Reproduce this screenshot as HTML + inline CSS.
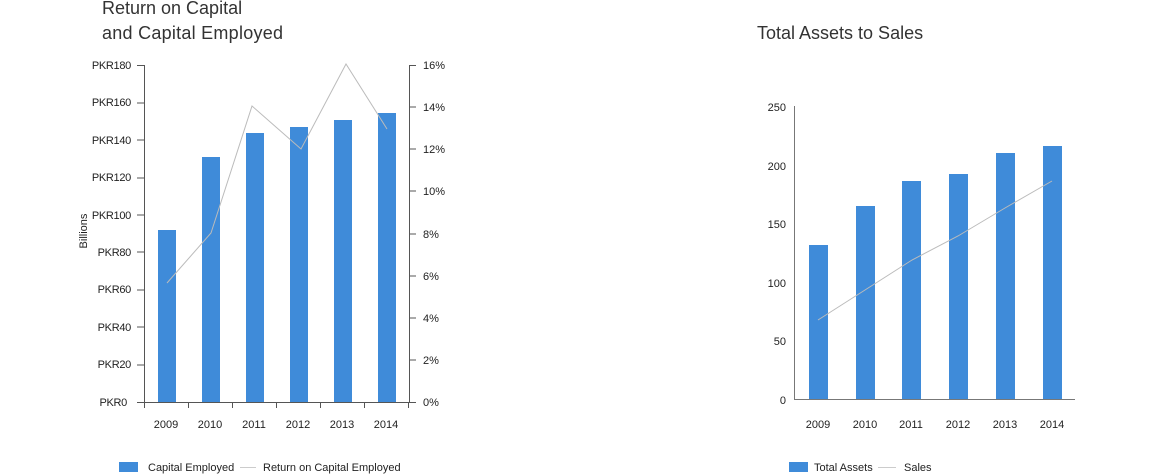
<!DOCTYPE html>
<html><head><meta charset="utf-8"><style>
html,body{margin:0;padding:0;background:#fff;}
svg{display:block;font-family:"Liberation Sans","DejaVu Sans",sans-serif;}
</style></head><body>
<svg width="1154" height="475" viewBox="0 0 1154 475" xmlns="http://www.w3.org/2000/svg">
<text x="102" y="14" font-size="18" fill="#333">Return on Capital</text>
<text x="102" y="39" font-size="18" fill="#333" textLength="181">and Capital Employed</text>
<text x="757" y="39" font-size="18" fill="#333">Total Assets to Sales</text>
<g fill="#3f8bd9">
<rect x="158" y="230" width="18" height="172"/>
<rect x="202" y="157" width="18" height="245"/>
<rect x="246" y="133" width="18" height="269"/>
<rect x="290" y="127" width="18" height="275"/>
<rect x="334" y="120" width="18" height="282"/>
<rect x="378" y="113" width="18" height="289"/>
</g>
<polyline points="167,283 211,233 252,106 301,149 346,64 387,129" fill="none" stroke="#bbb" stroke-width="1"/>
<g stroke="#555" stroke-width="1" fill="none">
<line x1="144.5" y1="65" x2="144.5" y2="402"/>
<line x1="409.5" y1="65" x2="409.5" y2="402"/>
<line x1="137" y1="402.5" x2="416" y2="402.5"/>
<path d="M137 65.5h7M137 103h7M137 140h7M137 178h7M137 215h7M137 252h7M137 290h7M137 327h7M137 365h7"/>
<path d="M409 65.5h7M409 107h7M409 149h7M409 191h7M409 234h7M409 276h7M409 318h7M409 360h7"/>
<path d="M144.5 402v6M188.5 402v6M232.5 402v6M276.5 402v6M320.5 402v6M364.5 402v6M408.5 402v6"/>
</g>
<g font-size="11" fill="#222" text-anchor="end" letter-spacing="-0.3">
<text x="131" y="69">PKR180</text><text x="131" y="106">PKR160</text><text x="131" y="144">PKR140</text>
<text x="131" y="181">PKR120</text><text x="131" y="219">PKR100</text><text x="131" y="256">PKR80</text>
<text x="131" y="293">PKR60</text><text x="131" y="331">PKR40</text><text x="131" y="368">PKR20</text>
<text x="127" y="406">PKR0</text>
</g>
<g font-size="11" fill="#222">
<text x="423" y="69">16%</text><text x="423" y="111">14%</text><text x="423" y="153">12%</text>
<text x="423" y="195">10%</text><text x="423" y="238">8%</text><text x="423" y="280">6%</text>
<text x="423" y="322">4%</text><text x="423" y="364">2%</text><text x="423" y="406">0%</text>
</g>
<text x="87" y="231" font-size="11" fill="#222" text-anchor="middle" transform="rotate(-90 87 231)">Billions</text>
<g font-size="11" fill="#222" text-anchor="middle">
<text x="166" y="428">2009</text><text x="210" y="428">2010</text><text x="254" y="428">2011</text>
<text x="298" y="428">2012</text><text x="342" y="428">2013</text><text x="386" y="428">2014</text>
</g>
<rect x="119" y="462" width="19" height="10" fill="#3f8bd9"/>
<text x="148" y="471" font-size="11" fill="#222">Capital Employed</text>
<line x1="240" y1="467.5" x2="256" y2="467.5" stroke="#ccc"/>
<text x="263" y="471" font-size="11" fill="#222">Return on Capital Employed</text>

<g fill="#3f8bd9">
<rect x="809" y="245" width="19" height="154"/>
<rect x="856" y="206" width="19" height="193"/>
<rect x="902" y="181" width="19" height="218"/>
<rect x="949" y="174" width="19" height="225"/>
<rect x="996" y="153" width="19" height="246"/>
<rect x="1043" y="146" width="19" height="253"/>
</g>
<polyline points="818,320 865,290 912,260 958,236 1005,208 1052,181" fill="none" stroke="#bbb" stroke-width="1"/>
<g stroke="#777" stroke-width="1">
<line x1="794.5" y1="106" x2="794.5" y2="399"/>
<line x1="794" y1="399.5" x2="1075" y2="399.5"/>
</g>
<g font-size="11" fill="#222" text-anchor="end">
<text x="786" y="111">250</text><text x="786" y="170">200</text><text x="786" y="228">150</text>
<text x="786" y="287">100</text><text x="786" y="345">50</text><text x="786" y="404">0</text>
</g>
<g font-size="11" fill="#222" text-anchor="middle">
<text x="818" y="428">2009</text><text x="865" y="428">2010</text><text x="911" y="428">2011</text>
<text x="958" y="428">2012</text><text x="1005" y="428">2013</text><text x="1052" y="428">2014</text>
</g>
<rect x="789" y="462" width="19" height="10" fill="#3f8bd9"/>
<text x="814" y="471" font-size="11" fill="#222">Total Assets</text>
<line x1="878" y1="467.5" x2="896" y2="467.5" stroke="#ccc"/>
<text x="904" y="471" font-size="11" fill="#222">Sales</text>
</svg>
</body></html>
